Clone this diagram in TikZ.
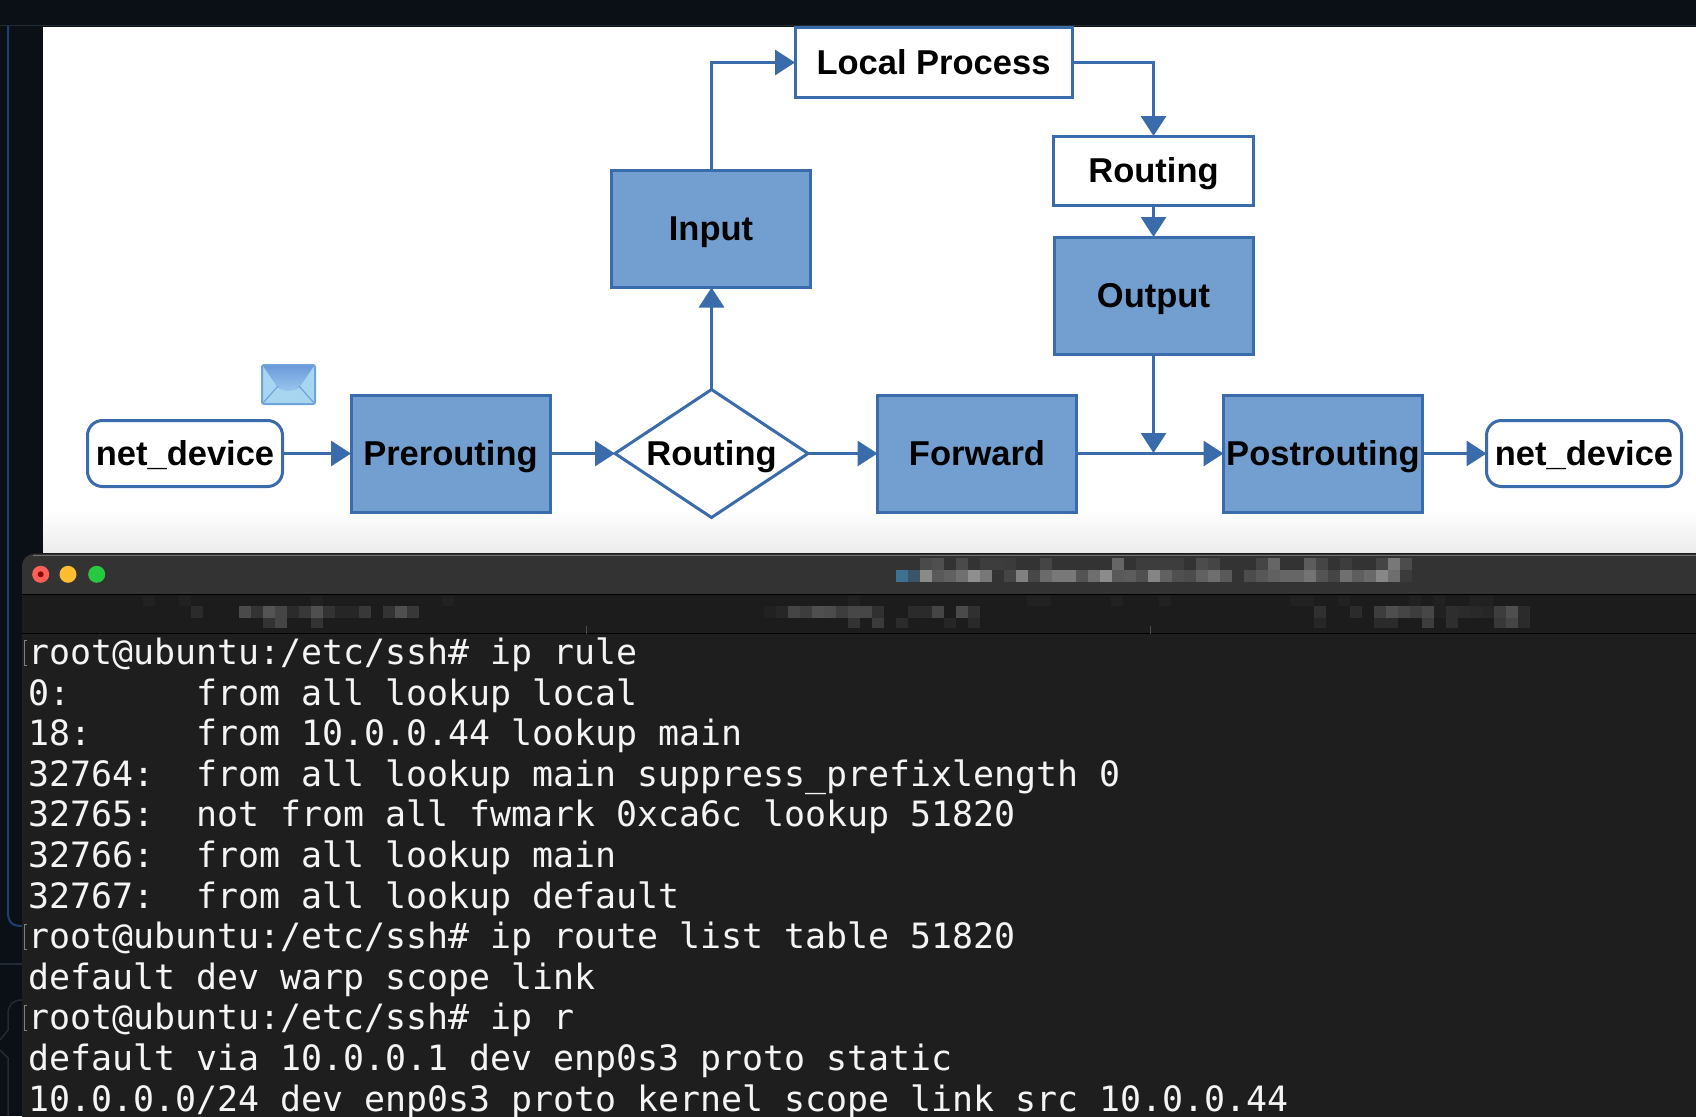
\documentclass[tikz,border=0pt]{standalone}
\usepackage{fontspec}
\setmainfont{Liberation Sans}
\newfontfamily\termfont{DejaVu Sans Mono}
\usetikzlibrary{arrows.meta,shapes.geometric}
\definecolor{pagebg}{HTML}{0B1017}
\definecolor{boxfill}{HTML}{729FCF}
\definecolor{boxline}{HTML}{3A6BAA}
\definecolor{titlebg}{HTML}{333333}
\definecolor{tabbg}{HTML}{1C1C1C}
\definecolor{termbg}{HTML}{1E1E1E}
\definecolor{termfg}{HTML}{F4F4F4}
\definecolor{sideline}{HTML}{1F3F73}
\definecolor{sidefaint}{HTML}{222A33}
\definecolor{envbody}{HTML}{A8D5F0}
\definecolor{envline}{HTML}{6FA3DC}
\definecolor{envflaptop}{HTML}{6C9CDB}
\definecolor{envflapbot}{HTML}{9CC6EE}
\definecolor{mosaicA}{HTML}{3F708F}
\definecolor{mosaicB}{HTML}{3A5568}
\definecolor{lightred}{HTML}{FF5F57}
\definecolor{lightdot}{HTML}{8A0A05}
\definecolor{lightyellow}{HTML}{FEBC2E}
\definecolor{lightgreen}{HTML}{28C840}
\tikzset{
  lab/.style={font=\fontsize{34.5}{38}\selectfont\bfseries,text=black,inner sep=0pt,outer sep=0pt,line width=3pt,draw=boxline,text height=26pt,text depth=2.5pt},
  bluebox/.style={lab,fill=boxfill,rectangle,minimum width=199pt,minimum height=117pt},
  whitebox/.style={lab,fill=white,rectangle},
  devbox/.style={whitebox,rounded corners=15pt,minimum width=195pt,minimum height=66pt},
  decision/.style={lab,fill=white,diamond,aspect=1.5,minimum width=193pt,minimum height=128pt},
  flow/.style={draw=boxline,line width=3pt,-{Triangle[length=20pt,width=25pt]}},
  termline/.style={anchor=base west,inner sep=0pt,text=termfg,font=\termfont\fontsize{34.9}{40}\selectfont},
  light/.style={circle,inner sep=0pt,minimum size=17pt},
}
\begin{document}
\begin{tikzpicture}[x=1pt,y=-1pt]
\useasboundingbox (0,0) rectangle (1696,1116);
% page background
\fill[pagebg] (0,0) rectangle (1696,1116);
\draw[sidefaint,line width=1.5pt] (0,25.5) -- (1696,25.5);
\draw[sideline,line width=2pt] (8,26) -- (8,912) .. controls (8,922) and (12,926) .. (22,926);
\draw[sidefaint,line width=2pt] (0,964) -- (22,964);
\draw[sidefaint,line width=1.5pt] (22,1000) .. controls (12,1000) and (8,1006) .. (8,1014) -- (8,1030) -- (0,1040);
\draw[sidefaint,line width=1.5pt] (0,1050) -- (8,1058) -- (8,1116);
% white canvas
\fill[white] (43,27) rectangle (1696,556);
\shade[top color=white,bottom color=black!8] (43,510) rectangle (1696,556);
% diagram nodes
\node[whitebox,minimum width=277pt,minimum height=69pt] (lp) at (933.5,62.5) {Local Process};
\node[whitebox,minimum width=200pt,minimum height=69pt] (r2) at (1153.5,170.5) {Routing};
\node[bluebox] (out) at (1153.5,295.5) {Output};
\node[bluebox] (inp) at (711,229) {Input};
\node[devbox] (nd1) at (185,453.5) {net\_device};
\node[bluebox] (pre) at (450.5,453.5) {Prerouting};
\node[decision] (r1) at (711.5,453.5) {Routing};
\node[bluebox] (fwd) at (977,453.5) {Forward};
\node[bluebox] (post) at (1323,453.5) {Postrouting};
\node[devbox] (nd2) at (1584,453.5) {net\_device};
\coordinate (join) at (1153.5,453);
% connectors
\draw[flow] (nd1) -- (pre);
\draw[flow] (pre) -- (r1);
\draw[flow] (r1) -- (fwd);
\draw[flow] (fwd) -- (post);
\draw[flow] (post) -- (nd2);
\draw[flow] (r1.north) -- (r1.north |- inp.south);
\draw[flow] (inp.north) |- (lp.west);
\draw[flow] (lp.east) -| (r2.north);
\draw[flow] (r2) -- (out);
\draw[flow] (out.south) -- (join);
% envelope
\draw[draw=envline,line width=2pt,fill=envbody,rounded corners=2pt] (262,365) rectangle (315,404);
\shade[top color=envflaptop,bottom color=envflapbot] (263,366) -- (314,366) -- (299,388) .. controls (290,392) and (286,392) .. (278,388) -- cycle;
\draw[draw=envline,line width=1.2pt] (263,403) -- (278,386) (314,403) -- (299,386);
% terminal window
\fill[termbg,rounded corners=12pt] (22,554) rectangle (1720,1140);
\fill[titlebg,rounded corners=12pt] (22,554) rectangle (1720,620);
\fill[tabbg] (22,594) rectangle (1696,634);
\fill[termbg] (22,634) rectangle (1696,1116);
\draw[black,line width=1.5pt] (22,594.5) -- (1696,594.5);
\draw[black,line width=1.5pt] (22,633.5) -- (1696,633.5);
\draw[black!55,line width=1pt] (33,555.5) -- (1696,555.5);
\draw[black!90,line width=1.2pt] (34,553.8) -- (1696,553.8);
\node[light,fill=lightred] (tl1) at (40.7,574.3) {};
\fill[lightdot] (tl1) circle (3pt);
\node[light,fill=lightyellow] (tl2) at (68,574.3) {};
\node[light,fill=lightgreen] (tl3) at (96.7,574.3) {};
% tab separators
\draw[white!30!black,line width=1pt] (586,626) -- (586,634);
\draw[white!30!black,line width=1pt] (1150,626) -- (1150,634);
% obscured window title
\fill[mosaicA] (896,570) rectangle +(12,12);
\fill[mosaicB] (908,570) rectangle +(12,12);
\foreach \c/\v in {2/54,3/35,4/38,5/44,6/56,7/47,8/20,9/27,10/50,11/28,12/42,13/47,14/47,15/33,16/43,17/55,18/35,19/36,20/31,21/52,22/38,23/31,24/30,25/38,26/43,27/35,29/30,30/34,31/38,32/40,33/40,34/45,35/33,36/27,37/44,38/37,39/41,40/53,41/43,42/23}
  \fill[white!\v!black] ({896+12*\c},570) rectangle +(12,12);
\foreach \c/\v in {2/29,3/31,5/29,7/24,8/24,9/23,12/27,18/40,20/24,21/24,22/24,23/24,25/30,26/27,30/27,31/40,34/36,35/27,37/24,40/27,41/47,42/30}
  \fill[white!\v!black] ({896+12*\c},558) rectangle +(12,12);
% obscured tab titles
\foreach \xx in {143,179,311,442,848,1027,1039,1111,1159,1290,1302,1338,1409,1433,1469,1481}
  \fill[white!13!black] (\xx,596) rectangle +(12,10);
\foreach \c/\v in {0/17,4/29,5/20,6/33,7/27,8/17,9/22,10/31,11/20,12/15,13/15,14/22,16/20,17/31,18/22}
  \fill[white!\v!black] ({191+12*\c},606) rectangle +(12,12);
\foreach \c/\v in {6/20,7/27,10/20}
  \fill[white!\v!black] ({191+12*\c},618) rectangle +(12,10);
\foreach \c/\v in {0/13,1/15,2/27,3/24,4/31,5/30,6/24,7/28,8/28,9/19,12/17,13/17,14/27,16/29,17/19}
  \fill[white!\v!black] ({764+12*\c},606) rectangle +(12,12);
\foreach \c/\v in {7/20,9/23,11/17,15/15,17/16}
  \fill[white!\v!black] ({764+12*\c},618) rectangle +(12,10);
\foreach \c/\v in {0/19,3/17,5/24,6/31,7/27,8/24,9/28,10/13,11/18,12/17,13/16,14/15,15/24,16/31,17/17}
  \fill[white!\v!black] ({1314+12*\c},606) rectangle +(12,12);
\foreach \c/\v in {0/15,5/17,6/17,9/24,11/18,15/22,16/27,17/17}
  \fill[white!\v!black] ({1314+12*\c},618) rectangle +(12,10);
% prompt markers
\foreach \yy in {664.4,948.6,1029.8}
  \draw[white!50!black,line width=1pt] (27,\yy-24) -- (24.5,\yy-24) -- (24.5,\yy+1) -- (27,\yy+1);
% terminal text
\node[termline] (t1) at (28,664.4) {root@ubuntu:/etc/ssh\#~ip~rule};
\node[termline] (t2) at (28,705) {0:~~~~~~from~all~lookup~local};
\node[termline] (t3) at (28,745.6) {18:~~~~~from~10.0.0.44~lookup~main};
\node[termline] (t4) at (28,786.2) {32764:~~from~all~lookup~main~suppress\_prefixlength~0};
\node[termline] (t5) at (28,826.8) {32765:~~not~from~all~fwmark~0xca6c~lookup~51820};
\node[termline] (t6) at (28,867.4) {32766:~~from~all~lookup~main};
\node[termline] (t7) at (28,908) {32767:~~from~all~lookup~default};
\node[termline] (t8) at (28,948.6) {root@ubuntu:/etc/ssh\#~ip~route~list~table~51820};
\node[termline] (t9) at (28,989.2) {default~dev~warp~scope~link};
\node[termline] (t10) at (28,1029.8) {root@ubuntu:/etc/ssh\#~ip~r};
\node[termline] (t11) at (28,1070.4) {default~via~10.0.0.1~dev~enp0s3~proto~static};
\node[termline] (t12) at (28,1111) {10.0.0.0/24~dev~enp0s3~proto~kernel~scope~link~src~10.0.0.44};
\end{tikzpicture}
\end{document}
